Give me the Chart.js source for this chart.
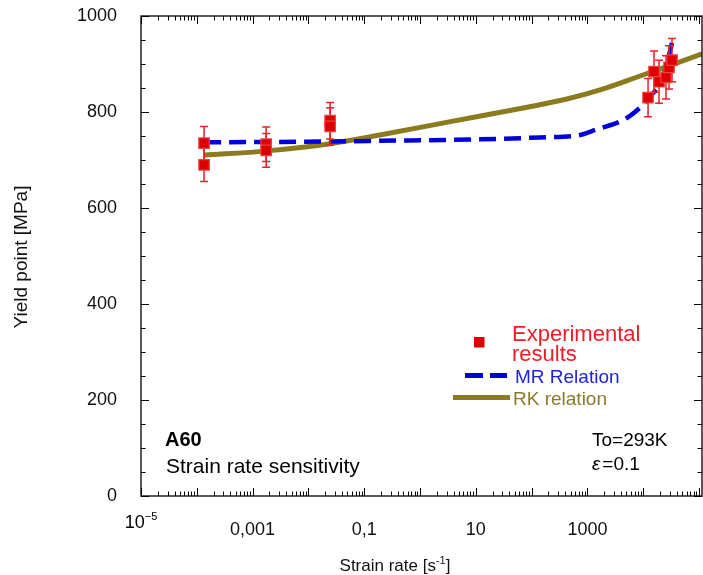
<!DOCTYPE html>
<html>
<head>
<meta charset="utf-8">
<script src="https://cdn.jsdelivr.net/npm/chart.js@4.4.1/dist/chart.umd.min.js"></script>
<style>
  html, body { margin: 0; padding: 0; background: #fff; }
</style>
</head>
<body>
<canvas id="yieldChart" width="703" height="575"></canvas>
<script>
// Experimental results: strain rate [1/s], yield point [MPa], error (+/-)
const expRate  = [1.35e-4, 1.35e-4, 1.75e-3, 1.75e-3, 0.0245, 0.0245, 12200, 15600, 19200, 25600, 29000, 32800];
const expYield = [735, 690, 733, 720, 782, 770, 830, 884, 863, 872, 893, 908];
const expErr   = [35, 35, 36, 35, 38, 39, 40, 43, 45, 45, 45, 45];

// MR relation
const mrRate  = [1.35e-4, 7.1e-3, 0.19, 11.9, 141, 736, 1490, 3840, 5800, 9900, 13200, 21700, 26700, 32800];
const mrYield = [737, 738, 740, 743, 747, 752, 764, 780, 792, 815, 832, 867, 902, 944];

// RK relation
const rkRate  = [1.35e-4, 1.8e-3, 0.0245, 0.19, 3.9, 83, 430, 1680, 8770, 1.13e5];
const rkYield = [710, 719, 734, 752, 781, 810, 827, 846, 875, 921];

// axes
const xMin = 1e-5, xMax = 1.13e5;
const xTickValues = [1e-5, 1e-3, 1e-1, 10, 1000];
const xTickLabels = ['10^-5', '0,001', '0,1', '10', '1000'];
const yMin = 0, yMax = 1000, yStep = 200, yMinorStep = 50;

const FONT = "'Liberation Sans', Arial, sans-serif";
Chart.defaults.font.family = FONT;

function pts(xs, ys) {
    return xs.map((x, i) => ({ x: x, y: ys[i] }));
}

// текст с верхним индексом
function supText(ctx, base, sup, x, y, size, align) {
    ctx.font = size + 'px ' + FONT;
    const wBase = ctx.measureText(base).width;
    ctx.font = Math.round(size * 0.62) + 'px ' + FONT;
    const wSup = ctx.measureText(sup).width;
    let x0 = x;
    if (align === 'center') x0 = x - (wBase + wSup) / 2;
    ctx.textAlign = 'left';
    ctx.font = size + 'px ' + FONT;
    ctx.fillText(base, x0, y);
    ctx.font = Math.round(size * 0.62) + 'px ' + FONT;
    ctx.fillText(sup, x0 + wBase, y - size * 0.42);
    return x0 + wBase + wSup;
}

const errorBars = {
    id: 'errorBars',
    beforeDatasetDraw(chart, args) {
        if (args.index !== 0) return;
        const ctx = chart.ctx, xs = chart.scales.x, ys = chart.scales.y;
        ctx.save();
        ctx.strokeStyle = '#e8202a';
        ctx.lineWidth = 1.5;
        expRate.forEach((r, i) => {
            const px = xs.getPixelForValue(r);
            const top = ys.getPixelForValue(expYield[i] + expErr[i]);
            const bot = ys.getPixelForValue(expYield[i] - expErr[i]);
            ctx.beginPath();
            ctx.moveTo(px, top); ctx.lineTo(px, bot);
            ctx.moveTo(px - 4, top); ctx.lineTo(px + 4, top);
            ctx.moveTo(px - 4, bot); ctx.lineTo(px + 4, bot);
            ctx.stroke();
        });
        ctx.restore();
    }
};

const frameAndNotes = {
    id: 'frameAndNotes',
    afterDraw(chart) {
        const ctx = chart.ctx, a = chart.chartArea;
        const xs = chart.scales.x, ys = chart.scales.y;
        ctx.save();
        // рамка
        ctx.strokeStyle = '#000';
        ctx.lineWidth = 1.3;
        ctx.strokeRect(a.left, a.top, a.right - a.left, a.bottom - a.top);

        // метки по Y (внутрь, слева и справа)
        ctx.lineWidth = 1;
        ctx.beginPath();
        for (let v = yMin; v <= yMax; v += yMinorStep) {
            const py = Math.round(ys.getPixelForValue(v)) + 0.5;
            const len = (v % yStep === 0) ? 8 : 4.5;
            ctx.moveTo(a.left, py); ctx.lineTo(a.left + len, py);
            ctx.moveTo(a.right, py); ctx.lineTo(a.right - len, py);
        }
        // метки по X (лог. шкала)
        for (let d = -5; d <= 5; d++) {
            for (let k = 1; k <= 9; k++) {
                const v = k * Math.pow(10, d);
                if (v < xMin * 0.999 || v > xMax) continue;
                const px = Math.round(xs.getPixelForValue(v)) + 0.5;
                const len = (k === 1) ? 8 : 4.5;
                ctx.moveTo(px, a.bottom); ctx.lineTo(px, a.bottom - len);
                ctx.moveTo(px, a.top); ctx.lineTo(px, a.top + len);
            }
        }
        ctx.stroke();

        ctx.fillStyle = '#000';
        ctx.textBaseline = 'alphabetic';
        // подпись 10^-5
        xTickLabels.forEach((lab, i) => {
            if (lab.indexOf('^') < 0) return;
            const parts = lab.split('^');
            supText(ctx, parts[0], parts[1].replace('-', '\u2212'), xs.getPixelForValue(xTickValues[i]), 528, 18, 'center');
        });

        // заголовки осей
        ctx.fillStyle = '#111';
        ctx.font = '17px ' + FONT;
        const t1 = 'Strain rate [s';
        const wT = ctx.measureText(t1).width;
        ctx.font = '11px ' + FONT;
        const wS = ctx.measureText('-1').width;
        ctx.font = '17px ' + FONT;
        const wE = ctx.measureText(']').width;
        const tx = 395 - (wT + wS + wE) / 2;
        const endX = supText(ctx, t1, '-1', tx, 571, 17, 'left');
        ctx.font = '17px ' + FONT;
        ctx.fillText(']', endX, 571);

        ctx.save();
        ctx.translate(27, 257);
        ctx.rotate(-Math.PI / 2);
        ctx.textAlign = 'center';
        ctx.font = '19px ' + FONT;
        ctx.fillText('Yield point [MPa]', 0, 0);
        ctx.restore();

        // легенда
        ctx.fillStyle = '#dc0000';
        ctx.fillRect(474, 337, 10.5, 10.5);
        ctx.textAlign = 'left';
        ctx.fillStyle = '#ee1c24';
        ctx.font = '22px ' + FONT;
        ctx.fillText('Experimental', 512, 341);
        ctx.fillText('results', 512, 361);

        ctx.strokeStyle = '#0000dd';
        ctx.lineWidth = 5;
        ctx.beginPath();
        ctx.moveTo(465, 375.5); ctx.lineTo(483, 375.5);
        ctx.moveTo(490, 375.5); ctx.lineTo(507, 375.5);
        ctx.stroke();
        ctx.fillStyle = '#2020e0';
        ctx.font = '19px ' + FONT;
        ctx.fillText('MR Relation', 515, 383);

        ctx.strokeStyle = '#8c7a1e';
        ctx.beginPath();
        ctx.moveTo(453, 397.5); ctx.lineTo(510, 397.5);
        ctx.stroke();
        ctx.fillStyle = '#8a7a2a';
        ctx.fillText('RK relation', 513, 405);

        // надписи
        ctx.fillStyle = '#000';
        ctx.font = 'bold 20px ' + FONT;
        ctx.fillText('A60', 165, 446);
        ctx.font = '21px ' + FONT;
        ctx.fillText('Strain rate sensitivity', 166, 473);

        ctx.font = '19px ' + FONT;
        ctx.fillText('To=293K', 592, 446);
        ctx.font = 'italic 19px ' + FONT;
        ctx.fillText('\u03b5', 592, 470);
        const we = ctx.measureText('\u03b5').width;
        ctx.font = '19px ' + FONT;
        ctx.fillText('=0.1', 592 + we + 2, 470);
        ctx.restore();
    }
};

const ctx = document.getElementById('yieldChart').getContext('2d');
new Chart(ctx, {
    type: 'scatter',
    data: {
        datasets: [{
            label: 'Experimental results',
            data: pts(expRate, expYield),
            pointStyle: 'rect',
            pointRadius: 7.4,
            backgroundColor: '#dc0000',
            borderColor: '#f04040',
            borderWidth: 1.2,
            showLine: false
        }, {
            label: 'MR Relation',
            data: pts(mrRate, mrYield),
            showLine: true,
            pointRadius: 0,
            borderColor: '#0000dd',
            borderWidth: 4.5,
            borderDash: [17, 8],
            cubicInterpolationMode: 'monotone'
        }, {
            label: 'RK relation',
            data: pts(rkRate, rkYield),
            showLine: true,
            pointRadius: 0,
            borderColor: '#8c7a1e',
            borderWidth: 5,
            cubicInterpolationMode: 'monotone'
        }]
    },
    options: {
        responsive: false,
        animation: false,
        layout: { autoPadding: false, padding: { top: 16, right: 1, left: 0, bottom: 0 } },
        plugins: {
            legend: { display: false },
            tooltip: { enabled: false }
        },
        scales: {
            x: {
                type: 'logarithmic',
                min: xMin,
                max: xMax,
                grid: { display: false },
                border: { display: false },
                afterFit: (scale) => {
                    scale.height = 79;
                    scale.paddingLeft = 0;
                    scale.paddingRight = 0;
                },
                afterBuildTicks: (scale) => {
                    scale.ticks = xTickValues.map(v => ({ value: v }));
                },
                ticks: {
                    autoSkip: false,
                    maxRotation: 0,
                    padding: 15,
                    color: '#111',
                    font: { size: 18 },
                    callback: (value, index) => {
                        const lab = xTickLabels[index];
                        return lab.indexOf('^') >= 0 ? '' : lab;
                    }
                }
            },
            y: {
                min: yMin,
                max: yMax,
                grid: { display: false },
                border: { display: false },
                afterFit: (scale) => {
                    scale.width = 141;
                    scale.paddingTop = 0;
                    scale.paddingBottom = 0;
                },
                ticks: {
                    stepSize: yStep,
                    padding: 16,
                    color: '#111',
                    font: { size: 18 },
                    callback: (value) => String(value)
                }
            }
        }
    },
    plugins: [errorBars, frameAndNotes]
});
</script>
</body>
</html>
